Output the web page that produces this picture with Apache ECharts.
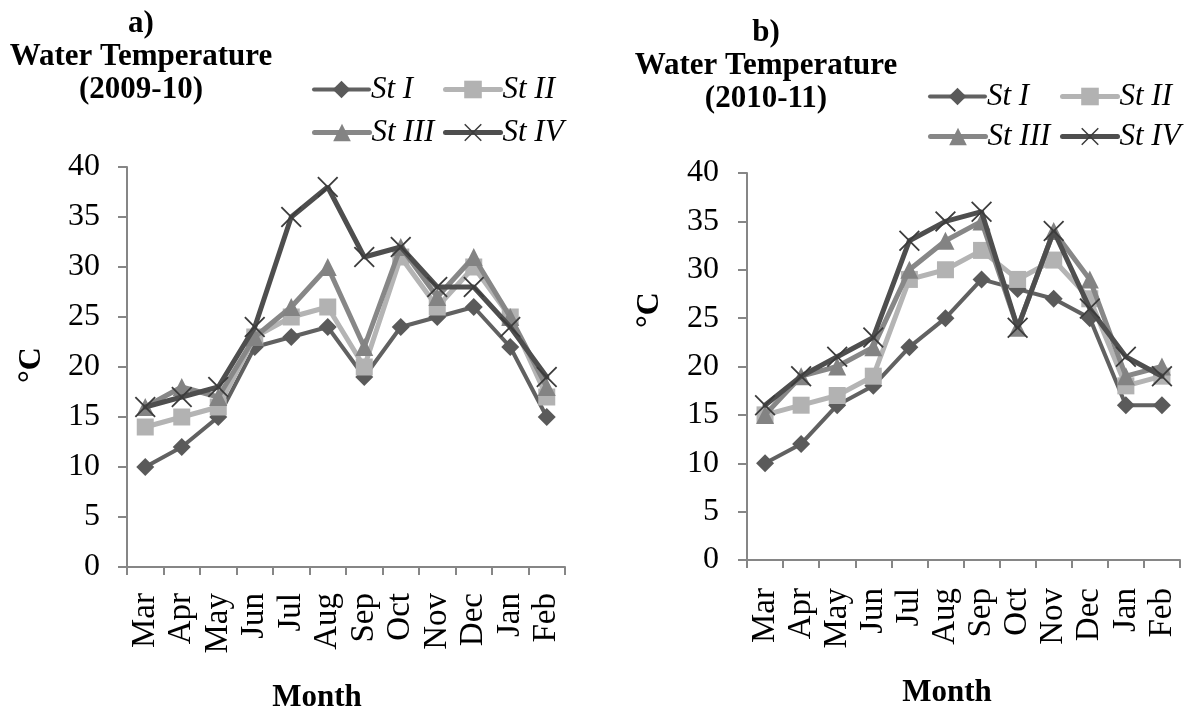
<!DOCTYPE html>
<html>
<head>
<meta charset="utf-8">
<script src="https://cdn.jsdelivr.net/npm/echarts@6/dist/echarts.min.js"></script>
<style>
html,body{margin:0;padding:0;background:#fff;}
#chart{width:1188px;height:715px;}
</style>
</head>
<body>
<div id="chart"></div>
<script>
// ---- Data ----
var months = ['Mar','Apr','May','Jun','Jul','Aug','Sep','Oct','Nov','Dec','Jan','Feb'];
var seriesNames = ['St I','St II','St III','St IV'];
var yTicks = [0, 40, 5]; // min, max, interval

// a) 2009-10
var a_stI   = [10, 12, 15, 22, 23, 24, 19, 24, 25, 26, 22, 15];
var a_stII  = [14, 15, 16, 23, 25, 26, 20, 31, 26, 30, 25, 17];
var a_stIII = [16, 18, 17, 23, 26, 30, 22, 32, 27, 31, 25, 18];
var a_stIV  = [16, 17, 18, 24, 35, 38, 31, 32, 28, 28, 24, 19];

// b) 2010-11
var b_stI   = [10, 12, 16, 18, 22, 25, 29, 28, 27, 25, 16, 16];
var b_stII  = [15, 16, 17, 19, 29, 30, 32, 29, 31, 27, 18, 19];
var b_stIII = [15, 19, 20, 22, 30, 33, 35, 24, 34, 29, 19, 20];
var b_stIV  = [16, 19, 21, 23, 33, 35, 36, 24, 34, 26, 21, 19];

// ---- Styles ----
var FONT = '"Liberation Serif","Times New Roman",serif';
var AXIS_COLOR = '#868686';
var X_PATH = 'path://M0,1.2 L1.2,0 L10,8.8 L18.8,0 L20,1.2 L11.2,10 L20,18.8 L18.8,20 L10,11.2 L1.2,20 L0,18.8 L8.8,10 Z';
var styles = [
  {color:'#616161', width:4, symbol:'diamond', size:18, markColor:'#5a5a5a'},
  {color:'#b4b4b4', width:5, symbol:'rect', size:17, markColor:'#b2b2b2'},
  {color:'#878787', width:5, symbol:'triangle', size:18, markColor:'#838383'},
  {color:'#4e4e4e', width:5, symbol:X_PATH, size:21, markColor:'#3c3c3c'}
];

function makeSeries(name, data, idx, gi) {
  var s = styles[idx];
  return {
    name: name, type: 'line', xAxisIndex: gi, yAxisIndex: gi,
    data: data, symbol: s.symbol, symbolSize: s.size, showAllSymbol: true,
    lineStyle: {color: s.color, width: s.width, cap: 'round'},
    itemStyle: {color: s.markColor, borderWidth: 0},
    emphasis: {disabled: true},
    animation: false, z: 2 + idx
  };
}

function xAxisDef(gi, margin) {
  return {
    type: 'category', gridIndex: gi, data: months, boundaryGap: true,
    axisLine: {show: true, lineStyle: {color: AXIS_COLOR, width: 2}},
    axisTick: {show: true, inside: false, length: 8, alignWithLabel: false, interval: 0, lineStyle: {color: AXIS_COLOR, width: 2}},
    axisLabel: {show: true, interval: 0, rotate: 90, margin: margin, color: '#000', fontFamily: FONT, fontSize: 33},
    splitLine: {show: false}
  };
}
function yAxisDef(gi, margin) {
  return {
    type: 'value', gridIndex: gi, min: yTicks[0], max: yTicks[1], interval: yTicks[2],
    axisLine: {show: true, lineStyle: {color: AXIS_COLOR, width: 2}},
    axisTick: {show: true, inside: false, length: 9, lineStyle: {color: AXIS_COLOR, width: 2}},
    axisLabel: {show: true, margin: margin, color: '#000', fontFamily: FONT, fontSize: 32},
    splitLine: {show: false}
  };
}

function legendDef(name, left, centerY) {
  return {
    data: [name], left: left, top: centerY - 11, padding: 0,
    itemWidth: 55, itemHeight: 22, itemGap: 0,
    selectedMode: false,
    lineStyle: {width: 'inherit', cap: 'round'},
    textStyle: {fontFamily: FONT, fontStyle: 'italic', fontSize: 31, color: '#000', lineHeight: 22, padding: [0,0,0,-3]}
  };
}

var titleStyle = {fontFamily: FONT, fontWeight: 'bold', fontSize: 31, color: '#000', lineHeight: 33, align: 'center'};

var option = {
  backgroundColor: '#fff',
  animation: false,
  title: [
    {text: 'a)\nWater Temperature\n(2009-10)', left: 141, top: 7, textAlign: 'center', padding: 0, textStyle: titleStyle},
    {text: 'b)\nWater Temperature\n(2010-11)', left: 766, top: 16, textAlign: 'center', padding: 0, textStyle: titleStyle}
  ],
  legend: [
    legendDef('St I', 312, 85), legendDef('St II', 443, 85),
    legendDef('St III', 312, 128), legendDef('St IV', 443, 128),
    legendDef('St I', 928, 92), legendDef('St II', 1060, 92),
    legendDef('St III', 928, 132), legendDef('St IV', 1060, 132)
  ],
  grid: [
    {left: 127, top: 167, width: 438, height: 400, containLabel: false, outerBoundsMode: 'none'},
    {left: 747, top: 173, width: 433, height: 387, containLabel: false, outerBoundsMode: 'none'}
  ],
  xAxis: [xAxisDef(0, 26), xAxisDef(1, 28)],
  yAxis: [yAxisDef(0, 27), yAxisDef(1, 28)],
  series: [
    makeSeries(seriesNames[0], a_stI, 0, 0),
    makeSeries(seriesNames[1], a_stII, 1, 0),
    makeSeries(seriesNames[2], a_stIII, 2, 0),
    makeSeries(seriesNames[3], a_stIV, 3, 0),
    makeSeries(seriesNames[0], b_stI, 0, 1),
    makeSeries(seriesNames[1], b_stII, 1, 1),
    makeSeries(seriesNames[2], b_stIII, 2, 1),
    makeSeries(seriesNames[3], b_stIV, 3, 1)
  ],
  graphic: [
    {type: 'text', x: 32, y: 365, rotation: Math.PI / 2,
     style: {text: '°C', fontFamily: FONT, fontWeight: 'bold', fontSize: 32, fill: '#000', align: 'center', verticalAlign: 'middle'}},
    {type: 'text', x: 650, y: 310, rotation: Math.PI / 2,
     style: {text: '°C', fontFamily: FONT, fontWeight: 'bold', fontSize: 32, fill: '#000', align: 'center', verticalAlign: 'middle'}},
    {type: 'text', x: 317, y: 698,
     style: {text: 'Month', fontFamily: FONT, fontWeight: 'bold', fontSize: 31, fill: '#000', align: 'center', verticalAlign: 'middle'}},
    {type: 'text', x: 947, y: 693,
     style: {text: 'Month', fontFamily: FONT, fontWeight: 'bold', fontSize: 31, fill: '#000', align: 'center', verticalAlign: 'middle'}}
  ]
};

var chart = echarts.init(document.getElementById('chart'), null, {renderer: 'canvas'});
chart.setOption(option);
</script>
</body>
</html>
